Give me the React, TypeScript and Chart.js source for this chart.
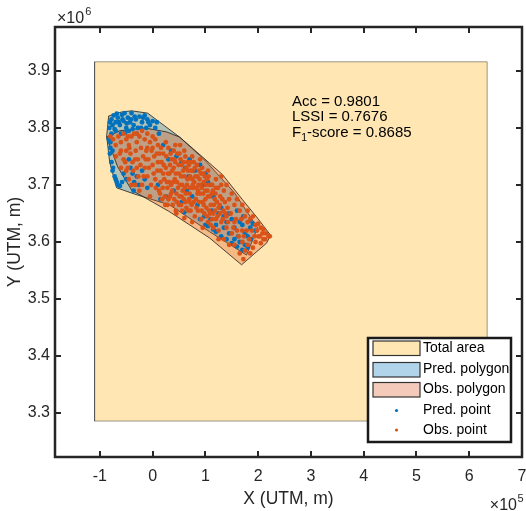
import React, { useEffect, useRef } from "react";
import { Chart, registerables } from "chart.js";

Chart.register(...registerables);

// ---- axis ticks (x in units of 1e5 m, y in units of 1e6 m) ----
const X_TICKS = [-1, 0, 1, 2, 3, 4, 5, 6, 7];
const X_TICK_LABELS = ["-1", "0", "1", "2", "3", "4", "5", "6", "7"];
const Y_TICKS = [3.3, 3.4, 3.5, 3.6, 3.7, 3.8, 3.9];
const Y_TICK_LABELS = ["3.3", "3.4", "3.5", "3.6", "3.7", "3.8", "3.9"];
const X_LIMITS = [-1.85, 7.0];
const Y_LIMITS = [3.223, 3.977];
const X_EXPONENT = "5";
const Y_EXPONENT = "6";
const X_TITLE = "X (UTM, m)";
const Y_TITLE = "Y (UTM, m)";

// ---- total study area rectangle ----
const TOTAL_AREA_X = [-1.1, 6.34, 6.34, -1.1, -1.1];
const TOTAL_AREA_Y = [3.286, 3.286, 3.916, 3.916, 3.286];

// ---- predicted polygon (convex hull) ----
const PRED_POLY_X = [-0.833, -0.587, -0.398, -0.095, 0.511, 0.985, 1.553, 1.989, 1.78, 1.08, 0.322, -0.341, -0.682, -0.814, -0.871, -0.833];
const PRED_POLY_Y = [3.821, 3.828, 3.83, 3.826, 3.784, 3.744, 3.686, 3.625, 3.577, 3.618, 3.665, 3.684, 3.695, 3.74, 3.786, 3.821];

// ---- observed polygon (convex hull) ----
const OBS_POLY_X = [-0.871, -0.625, -0.152, 0.265, 0.511, 0.947, 1.326, 1.705, 1.97, 2.235, 2.159, 1.686, 1.08, 0.322, -0.398, -0.663, -0.871];
const OBS_POLY_Y = [3.784, 3.795, 3.8, 3.793, 3.784, 3.749, 3.718, 3.674, 3.644, 3.612, 3.598, 3.56, 3.607, 3.653, 3.691, 3.732, 3.784];

// ---- predicted points [x, y] ----
const PRED_POINTS: [number, number][] = [
  [-0.81, 3.81], [-0.78, 3.815], [-0.74, 3.822], [-0.7, 3.81], [-0.66, 3.818], [-0.62, 3.805], [-0.58, 3.823],
  [-0.55, 3.812], [-0.5, 3.8], [-0.47, 3.818], [-0.43, 3.81], [-0.4, 3.826], [-0.36, 3.805], [-0.32, 3.815],
  [-0.28, 3.8], [-0.25, 3.82], [-0.2, 3.81], [-0.15, 3.822], [-0.1, 3.815], [-0.12, 3.8], [-0.72, 3.798],
  [-0.6, 3.79], [-0.45, 3.795], [-0.3, 3.79], [-0.05, 3.805], [0.05, 3.8], [0.12, 3.79],
  [-0.76, 3.805], [-0.68, 3.825], [-0.64, 3.81], [-0.57, 3.815], [-0.53, 3.826], [-0.49, 3.808], [-0.41, 3.815],
  [-0.38, 3.798], [-0.34, 3.82], [-0.22, 3.8], [-0.18, 3.818], [-0.08, 3.81], [-0.78, 3.79], [-0.7, 3.795],
  [-0.52, 3.792], [-0.82, 3.8], [0.0, 3.812], [0.08, 3.81],
  [-0.83, 3.78], [-0.8, 3.765], [-0.8, 3.775], [-0.78, 3.74], [-0.81, 3.755], [-0.75, 3.73], [-0.7, 3.71],
  [-0.72, 3.715], [-0.66, 3.7], [-0.62, 3.698], [-0.76, 3.76], [-0.76, 3.725], [-0.68, 3.705], [-0.55, 3.72],
  [-0.58, 3.705],
  [-0.42, 3.73], [-0.38, 3.72], [-0.35, 3.705], [-0.3, 3.715], [-0.26, 3.7], [-0.2, 3.725], [-0.15, 3.71],
  [-0.1, 3.695], [-0.36, 3.69], [-0.5, 3.71], [-0.45, 3.745],
  [0.2, 3.77], [0.35, 3.76], [0.55, 3.74], [0.62, 3.73], [0.7, 3.745], [0.8, 3.725], [0.9, 3.735], [1.0, 3.72],
  [1.05, 3.705], [0.68, 3.715], [0.45, 3.75], [0.3, 3.745],
  [0.1, 3.7], [0.25, 3.68], [0.4, 3.69], [0.55, 3.67], [0.15, 3.675], [0.75, 3.68], [0.85, 3.665], [0.6, 3.652],
  [0.65, 3.69], [0.95, 3.7], [1.15, 3.68],
  [0.9, 3.64], [1.0, 3.63], [1.1, 3.64], [1.15, 3.622], [1.2, 3.63], [1.3, 3.61], [1.35, 3.625], [1.4, 3.605],
  [1.45, 3.615], [1.5, 3.598], [1.55, 3.605], [1.6, 3.592], [1.65, 3.6], [1.7, 3.586], [1.75, 3.595], [1.8, 3.61],
  [1.85, 3.625], [1.86, 3.605], [1.95, 3.62], [1.9, 3.632], [1.25, 3.65], [1.5, 3.64], [1.7, 3.63], [1.05, 3.628],
  [1.3, 3.66], [1.6, 3.655], [1.85, 3.638], [1.4, 3.635], [1.45, 3.65], [1.55, 3.625], [1.62, 3.61], [1.75, 3.615],
  [1.8, 3.59], [1.2, 3.618], [0.98, 3.645], [1.12, 3.655], [1.35, 3.645], [1.65, 3.635], [1.72, 3.645],
];

// ---- observed points [x, y] ----
const OBS_POINTS: [number, number][] = [
  [-0.8, 3.785], [-0.75, 3.78], [-0.7, 3.77], [-0.65, 3.785], [-0.6, 3.775], [-0.55, 3.79], [-0.5, 3.78],
  [-0.45, 3.77], [-0.4, 3.785], [-0.35, 3.79], [-0.3, 3.775], [-0.25, 3.785], [-0.2, 3.795], [-0.15, 3.78],
  [-0.1, 3.79], [-0.05, 3.775], [0.0, 3.785], [0.05, 3.78], [0.1, 3.77], [-0.7, 3.75], [-0.62, 3.755],
  [-0.55, 3.745], [-0.5, 3.76], [-0.42, 3.755], [-0.38, 3.74], [-0.32, 3.76], [-0.28, 3.745], [-0.22, 3.765],
  [-0.18, 3.75], [-0.12, 3.76], [-0.08, 3.745], [-0.02, 3.76], [0.03, 3.75], [-0.6, 3.73], [-0.5, 3.725],
  [-0.45, 3.71], [-0.4, 3.7], [-0.3, 3.73], [-0.25, 3.69], [-0.2, 3.7], [-0.15, 3.73], [-0.1, 3.715],
  [-0.05, 3.68], [0.0, 3.735], [0.05, 3.71], [-0.33, 3.7],
  [-0.6, 3.76], [-0.52, 3.74], [-0.47, 3.73], [-0.44, 3.765], [-0.37, 3.725], [-0.33, 3.745], [-0.27, 3.715],
  [-0.23, 3.735], [-0.17, 3.715], [-0.13, 3.745], [-0.07, 3.73], [-0.03, 3.7], [0.02, 3.72], [0.06, 3.695],
  [0.09, 3.725], [-0.1, 3.765], [-0.3, 3.79], [-0.47, 3.785], [0.0, 3.765], [0.16, 3.765], [0.25, 3.775], [0.43, 3.77],
  [0.1, 3.74], [0.15, 3.725], [0.2, 3.755], [0.22, 3.71], [0.25, 3.73], [0.28, 3.695], [0.3, 3.765], [0.32, 3.72],
  [0.35, 3.7], [0.36, 3.745], [0.4, 3.73], [0.42, 3.71], [0.45, 3.685], [0.47, 3.755], [0.5, 3.72], [0.52, 3.7],
  [0.55, 3.735], [0.57, 3.69], [0.6, 3.715], [0.62, 3.75], [0.65, 3.7], [0.67, 3.725], [0.7, 3.685], [0.72, 3.74],
  [0.75, 3.71], [0.77, 3.695], [0.8, 3.73], [0.82, 3.675], [0.85, 3.715], [0.87, 3.7], [0.9, 3.685], [0.92, 3.72],
  [0.95, 3.67], [0.97, 3.705], [1.0, 3.69], [1.02, 3.66], [1.05, 3.68], [1.08, 3.7], [1.1, 3.665], [1.12, 3.685],
  [1.15, 3.65], [1.18, 3.675], [1.2, 3.695], [1.25, 3.66], [1.28, 3.68], [0.12, 3.69], [0.18, 3.675], [0.24, 3.665],
  [0.3, 3.675], [0.38, 3.665], [0.44, 3.655], [0.5, 3.665], [0.56, 3.655], [0.62, 3.67], [0.68, 3.655], [0.74, 3.665],
  [0.8, 3.645], [0.86, 3.655], [0.92, 3.64], [0.98, 3.65], [0.2, 3.72], [0.27, 3.705], [0.33, 3.735], [0.43, 3.74],
  [0.48, 3.695], [0.53, 3.745], [0.58, 3.725], [0.63, 3.685], [0.66, 3.74], [0.71, 3.715], [0.76, 3.725], [0.79, 3.705],
  [0.83, 3.695], [0.88, 3.725], [0.93, 3.695], [0.96, 3.72], [1.03, 3.71], [1.07, 3.655], [1.13, 3.7], [0.15, 3.705],
  [0.6, 3.76], [0.75, 3.75], [0.9, 3.745], [1.05, 3.725], [1.2, 3.71], [1.3, 3.7], [0.4, 3.76], [0.52, 3.77],
  [0.08, 3.755], [0.35, 3.685], [0.55, 3.68], [0.7, 3.67], [0.85, 3.685], [1.0, 3.675],
  [0.13, 3.755], [0.17, 3.74], [0.21, 3.735], [0.26, 3.75], [0.29, 3.72], [0.31, 3.705], [0.34, 3.755], [0.37, 3.725],
  [0.39, 3.705], [0.41, 3.745], [0.44, 3.72], [0.46, 3.705], [0.49, 3.735], [0.51, 3.755], [0.54, 3.715], [0.56, 3.7],
  [0.59, 3.74], [0.61, 3.695], [0.64, 3.73], [0.66, 3.71], [0.69, 3.735], [0.71, 3.695], [0.73, 3.725], [0.76, 3.7],
  [0.78, 3.74], [0.81, 3.715], [0.84, 3.735], [0.86, 3.69], [0.89, 3.71], [0.91, 3.7], [0.94, 3.73], [0.96, 3.685],
  [0.99, 3.715], [1.01, 3.7], [1.04, 3.69], [1.06, 3.715], [1.09, 3.68], [1.11, 3.7], [1.14, 3.69], [1.16, 3.665],
  [1.19, 3.685], [1.22, 3.67], [1.24, 3.695], [1.27, 3.665], [1.32, 3.675], [1.34, 3.655], [1.37, 3.67], [1.42, 3.66],
  [0.14, 3.685], [0.19, 3.695], [0.23, 3.68], [0.28, 3.665], [0.33, 3.68], [0.37, 3.69], [0.41, 3.675], [0.46, 3.67],
  [0.51, 3.68], [0.54, 3.665], [0.59, 3.675], [0.64, 3.66], [0.69, 3.675], [0.72, 3.655], [0.78, 3.67], [0.83, 3.66],
  [0.88, 3.67], [0.93, 3.655], [0.97, 3.665], [1.03, 3.645], [1.09, 3.65], [1.13, 3.64], [1.18, 3.655], [1.23, 3.645],
  [1.28, 3.65], [1.33, 3.64], [1.38, 3.65], [1.43, 3.635], [1.48, 3.65], [1.53, 3.625], [1.58, 3.64], [1.63, 3.61],
  [1.68, 3.64], [1.73, 3.61], [1.78, 3.62], [1.83, 3.605], [1.88, 3.62], [1.93, 3.61], [1.98, 3.62], [2.03, 3.61],
  [2.08, 3.615], [2.13, 3.605],
  [1.3, 3.715], [1.35, 3.69], [1.4, 3.7], [1.45, 3.675], [1.5, 3.685], [1.55, 3.665], [1.6, 3.675], [1.65, 3.655],
  [1.7, 3.665], [1.75, 3.645], [1.8, 3.655], [1.85, 3.64], [1.9, 3.645], [1.95, 3.63], [2.0, 3.632], [2.05, 3.625],
  [2.1, 3.622], [2.15, 3.615], [2.2, 3.61], [2.22, 3.61], [2.1, 3.605], [2.0, 3.61], [1.95, 3.6], [2.05, 3.598],
  [1.1, 3.63], [1.15, 3.625], [1.2, 3.64], [1.25, 3.62], [1.3, 3.635], [1.35, 3.605], [1.4, 3.625], [1.45, 3.595],
  [1.5, 3.615], [1.55, 3.595], [1.6, 3.62], [1.65, 3.58], [1.7, 3.6], [1.72, 3.57], [1.75, 3.585], [1.8, 3.595],
  [1.85, 3.58], [1.9, 3.59], [1.4, 3.645], [1.55, 3.635], [1.7, 3.62], [1.8, 3.635], [1.25, 3.605], [0.95, 3.625],
  [1.05, 3.635], [0.75, 3.635], [0.6, 3.642], [0.45, 3.65],
];

// ---- metrics & legend ----
const METRIC_NAMES = ["Acc", "LSSI", "F1-score"];
const METRIC_VALUES = ["0.9801", "0.7676", "0.8685"];
const LEGEND_LABELS = ["Total area", "Pred. polygon", "Obs. polygon", "Pred. point", "Obs. point"];

const FONT = "'Liberation Sans', Arial, Helvetica, sans-serif";
const AXIS_COLOR = "#262626";

const toXY = (xs: number[], ys: number[]) => xs.map((x, i) => ({ x, y: ys[i] }));
const pairsToXY = (p: [number, number][]) => p.map(([x, y]) => ({ x, y }));

const framePlugin = {
  id: "matlabFrame",
  afterDatasetsDraw(chart: any) {
    const { ctx, chartArea: a, scales } = chart;
    const xs = scales.x;
    const ys = scales.y;
    ctx.save();
    ctx.strokeStyle = AXIS_COLOR;
    ctx.lineWidth = 2;
    ctx.beginPath();
    xs.ticks.forEach((t: any) => {
      const px = Math.round(xs.getPixelForValue(t.value));
      ctx.moveTo(px, a.bottom);
      ctx.lineTo(px, a.bottom - 6);
      ctx.moveTo(px, a.top);
      ctx.lineTo(px, a.top + 6);
    });
    ys.ticks.forEach((t: any) => {
      const py = Math.round(ys.getPixelForValue(t.value));
      ctx.moveTo(a.left, py);
      ctx.lineTo(a.left + 6, py);
      ctx.moveTo(a.right, py);
      ctx.lineTo(a.right - 6, py);
    });
    ctx.stroke();
    ctx.lineWidth = 2.5;
    ctx.strokeRect(a.left, a.top, a.right - a.left, a.bottom - a.top);
    ctx.restore();
  },
  afterDraw(chart: any) {
    const { ctx, chartArea: a } = chart;
    const ds = chart.data.datasets;
    ctx.save();
    ctx.fillStyle = AXIS_COLOR;
    ctx.textBaseline = "alphabetic";
    ctx.textAlign = "left";

    // exponent labels
    ctx.font = `16px ${FONT}`;
    ctx.fillText("\u00d710", a.left + 2, a.top - 4);
    let w = ctx.measureText("\u00d710").width;
    ctx.font = `11px ${FONT}`;
    ctx.fillText(Y_EXPONENT, a.left + 2 + w + 1, a.top - 12);

    ctx.font = `16px ${FONT}`;
    const xe = "\u00d710";
    w = ctx.measureText(xe).width;
    const xeLeft = a.right - w - 5;
    ctx.fillText(xe, xeLeft, 510);
    ctx.font = `11px ${FONT}`;
    ctx.fillText(X_EXPONENT, xeLeft + w + 0.5, 502);

    // metrics annotation
    ctx.fillStyle = "#000";
    const tx = 292;
    const baselines = [105.5, 121, 136.5];
    METRIC_NAMES.forEach((name, i) => {
      const y = baselines[i];
      ctx.font = `15px ${FONT}`;
      if (name.startsWith("F1")) {
        ctx.fillText("F", tx, y);
        const fw = ctx.measureText("F").width;
        ctx.font = `10.5px ${FONT}`;
        ctx.fillText("1", tx + fw, y + 4);
        const sw = ctx.measureText("1").width;
        ctx.font = `15px ${FONT}`;
        ctx.fillText(name.slice(2) + " = " + METRIC_VALUES[i], tx + fw + sw, y);
      } else {
        ctx.fillText(`${name} = ${METRIC_VALUES[i]}`, tx, y);
      }
    });

    // legend
    const lx = 368, ly = 338, lw = 143, lh = 104;
    ctx.fillStyle = "#ffffff";
    ctx.fillRect(lx, ly, lw, lh);
    ctx.strokeStyle = "#1a1a1a";
    ctx.lineWidth = 2.5;
    ctx.strokeRect(lx, ly, lw, lh);

    const rowY = [348, 369.5, 389.5, 410.5, 430];
    ctx.font = `14px ${FONT}`;
    ctx.textBaseline = "middle";
    LEGEND_LABELS.forEach((label, i) => {
      const d = ds[i];
      const cy = rowY[i];
      if (i < 3) {
        ctx.fillStyle = "#ffffff";
        ctx.fillRect(373, cy - 7, 47, 14.5);
        ctx.fillStyle = d.backgroundColor;
        ctx.fillRect(373, cy - 7, 47, 14.5);
        ctx.strokeStyle = "#333";
        ctx.lineWidth = 1.2;
        ctx.strokeRect(373, cy - 7, 47, 14.5);
      } else {
        ctx.fillStyle = d.pointBackgroundColor;
        ctx.beginPath();
        ctx.arc(396.5, cy, 1.6, 0, Math.PI * 2);
        ctx.fill();
      }
      ctx.fillStyle = "#000";
      ctx.fillText(label, 423, cy);
    });
    ctx.restore();
  },
};

export default function App() {
  const canvasRef = useRef<HTMLCanvasElement | null>(null);

  useEffect(() => {
    document.body.style.margin = "0";
    const canvas = canvasRef.current;
    if (!canvas) return;

    const chart = new Chart(canvas, {
      type: "scatter",
      data: {
        datasets: [
          {
            type: "line",
            label: LEGEND_LABELS[0],
            data: toXY(TOTAL_AREA_X, TOTAL_AREA_Y),
            backgroundColor: "rgb(255,230,179)",
            borderColor: "rgba(60,60,60,0.5)",
            borderWidth: 1,
            fill: "shape",
            pointRadius: 0,
            tension: 0,
            order: 5,
          } as any,
          {
            type: "line",
            label: LEGEND_LABELS[1],
            data: toXY(PRED_POLY_X, PRED_POLY_Y),
            backgroundColor: "rgba(0,114,189,0.3)",
            borderColor: "rgba(30,30,30,0.8)",
            borderWidth: 1,
            fill: "shape",
            pointRadius: 0,
            tension: 0,
            order: 4,
          } as any,
          {
            type: "line",
            label: LEGEND_LABELS[2],
            data: toXY(OBS_POLY_X, OBS_POLY_Y),
            backgroundColor: "rgba(217,83,25,0.3)",
            borderColor: "rgba(30,30,30,0.8)",
            borderWidth: 1,
            fill: "shape",
            pointRadius: 0,
            tension: 0,
            order: 3,
          } as any,
          {
            label: LEGEND_LABELS[3],
            data: pairsToXY(PRED_POINTS),
            pointBackgroundColor: "#0072BD",
            pointBorderColor: "#0072BD",
            backgroundColor: "#0072BD",
            pointBorderWidth: 0,
            pointRadius: 2.4,
            order: 2,
          } as any,
          {
            label: LEGEND_LABELS[4],
            data: pairsToXY(OBS_POINTS),
            pointBackgroundColor: "#D95319",
            pointBorderColor: "#D95319",
            backgroundColor: "#D95319",
            pointBorderWidth: 0,
            pointRadius: 2.4,
            order: 1,
          } as any,
        ],
      },
      options: {
        responsive: false,
        animation: false,
        events: [],
        layout: { padding: { top: 27, right: 2, bottom: 0, left: 0 } },
        plugins: {
          legend: { display: false },
          tooltip: { enabled: false },
          title: { display: false },
        },
        scales: {
          x: {
            type: "linear",
            min: X_LIMITS[0],
            max: X_LIMITS[1],
            grid: { display: false, drawTicks: false },
            border: { display: false },
            afterBuildTicks: (s: any) => {
              s.ticks = X_TICKS.map((v) => ({ value: v }));
            },
            afterFit: (s: any) => {
              s.height = 54;
              s.paddingLeft = 0;
              s.paddingRight = 0;
            },
            ticks: {
              autoSkip: false,
              maxRotation: 0,
              padding: 10,
              color: AXIS_COLOR,
              font: { family: FONT, size: 16 },
              callback: (v: any) => X_TICK_LABELS[X_TICKS.indexOf(Number(v))] ?? "",
            },
            title: {
              display: true,
              text: X_TITLE,
              color: AXIS_COLOR,
              font: { family: FONT, size: 17.5 },
              padding: { top: 0, bottom: 1 },
            },
          },
          y: {
            type: "linear",
            min: Y_LIMITS[0],
            max: Y_LIMITS[1],
            grid: { display: false, drawTicks: false },
            border: { display: false },
            afterBuildTicks: (s: any) => {
              s.ticks = Y_TICKS.map((v) => ({ value: v }));
            },
            afterFit: (s: any) => {
              s.width = 55;
              s.paddingTop = 0;
              s.paddingBottom = 0;
            },
            ticks: {
              autoSkip: false,
              padding: 5,
              color: AXIS_COLOR,
              font: { family: FONT, size: 16 },
              callback: (v: any) => Y_TICK_LABELS[Y_TICKS.indexOf(Number(v))] ?? "",
            },
            title: {
              display: true,
              text: Y_TITLE,
              color: AXIS_COLOR,
              font: { family: FONT, size: 17.5 },
              padding: { top: 5, bottom: 0 },
            },
          },
        },
      },
      plugins: [framePlugin],
    });

    return () => chart.destroy();
  }, []);

  return (
    <div style={{ position: "absolute", left: 0, top: 0, width: 526, height: 511, background: "#fff" }}>
      <canvas ref={canvasRef} width={526} height={511} />
    </div>
  );
}
